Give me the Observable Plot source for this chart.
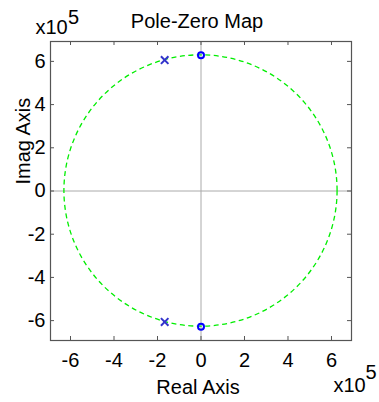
<!DOCTYPE html>
<html><head><meta charset="utf-8">
<script src="https://cdn.jsdelivr.net/npm/d3@7"></script>
<script src="https://cdn.jsdelivr.net/npm/@observablehq/plot@0.6"></script>
<style>html,body{margin:0;padding:0;background:#fff} svg{display:block}</style>
</head><body><div id="chart"></div>
<script>
const title = "Pole-Zero Map";
const xLabel = "Real Axis";
const yLabel = "Imag Axis";
const exponentBase = "x10";
const exponent = "5";
const axisTicks = [-6, -4, -2, 0, 2, 4, 6];
const axisLimit = 6.92;
const zerosRe = [0, 0];
const zerosIm = [6.28, -6.28];
const polesRe = [-1.67, -1.67];
const polesIm = [6.06, -6.06];
const naturalFreq = [6.28];

const zeros = zerosRe.map((re, i) => ({re, im: zerosIm[i]}));
const poles = polesRe.map((re, i) => ({re, im: polesIm[i]}));

const W = 379, H = 402;
const mL = 50, mR = 28, mT = 41, mB = 62;
const fw = W - mL - mR, fh = H - mT - mB;
const font = "'Liberation Sans', Arial, Helvetica, sans-serif";
const frameColor = "#555";
const tickLen = 4;
const fs = 20;
const fsTitle = 20;

const circleMark = (index, {x, y}) => {
  const g = d3.create("svg:g");
  for (const r of naturalFreq) {
    g.append("ellipse")
      .attr("cx", x(0)).attr("cy", y(0))
      .attr("rx", Math.abs(x(r) - x(0)))
      .attr("ry", Math.abs(y(r) - y(0)))
      .attr("fill", "none")
      .attr("stroke", "#00ee00")
      .attr("stroke-width", 1.3)
      .attr("stroke-dasharray", "5,3.5");
  }
  return g.node();
};

const chart = Plot.plot({
  width: W, height: H,
  marginLeft: mL, marginRight: mR, marginTop: mT, marginBottom: mB,
  style: {fontFamily: font, color: "#000", background: "#fff"},
  x: {domain: [-axisLimit, axisLimit], label: null},
  y: {domain: [-axisLimit, axisLimit], label: null},
  marks: [
    Plot.ruleX([0], {stroke: "#aaa", strokeWidth: 1}),
    Plot.ruleY([0], {stroke: "#aaa", strokeWidth: 1}),
    circleMark,
    Plot.dot(zeros, {x: "re", y: "im", symbol: "circle", r: 3, stroke: "#0000ff", strokeWidth: 2, fill: "none"}),
    Plot.dot(poles, {x: "re", y: "im", symbol: "times", r: 3.5, stroke: "#3333cc", strokeWidth: 2}),
    Plot.ruleX(axisTicks, {x: d => d, insetTop: fh - tickLen, stroke: frameColor}),
    Plot.ruleX(axisTicks, {x: d => d, insetBottom: fh - tickLen, stroke: frameColor}),
    Plot.ruleY(axisTicks, {y: d => d, insetRight: fw - tickLen, stroke: frameColor}),
    Plot.ruleY(axisTicks, {y: d => d, insetLeft: fw - tickLen, stroke: frameColor}),
    Plot.frame({stroke: frameColor, strokeWidth: 1.2}),
    Plot.axisX(axisTicks, {anchor: "bottom", tickSize: 0, tickPadding: 12, fontSize: fs, label: null, tickFormat: d => String(d)}),
    Plot.axisY(axisTicks, {anchor: "left", tickSize: 0, tickPadding: 5, fontSize: fs, label: null, tickFormat: d => String(d)}),
    Plot.text([title], {text: d => d, frameAnchor: "top", dx: -4, dy: -20, fontSize: fsTitle, lineAnchor: "middle"}),
    Plot.text([xLabel], {text: d => d, frameAnchor: "bottom", dx: -3, dy: 47, fontSize: fsTitle, lineAnchor: "middle"}),
    Plot.text([yLabel], {text: d => d, frameAnchor: "left", rotate: -90, dx: -27, dy: -6.5, fontSize: fsTitle, lineAnchor: "middle"}),
    Plot.text([exponentBase], {text: d => d, frameAnchor: "top-left", textAnchor: "start", dx: -15, dy: -14, fontSize: fs, lineAnchor: "middle"}),
    Plot.text([exponent], {text: d => d, frameAnchor: "top-left", textAnchor: "start", dx: 17.5, dy: -24, fontSize: fs, lineAnchor: "middle"}),
    Plot.text([exponentBase], {text: d => d, frameAnchor: "bottom-right", textAnchor: "start", dx: -18, dy: 45, fontSize: fs, lineAnchor: "middle"}),
    Plot.text([exponent], {text: d => d, frameAnchor: "bottom-right", textAnchor: "start", dx: 14, dy: 32, fontSize: fs, lineAnchor: "middle"})
  ]
});
document.getElementById("chart").appendChild(chart);
</script>
</body></html>
